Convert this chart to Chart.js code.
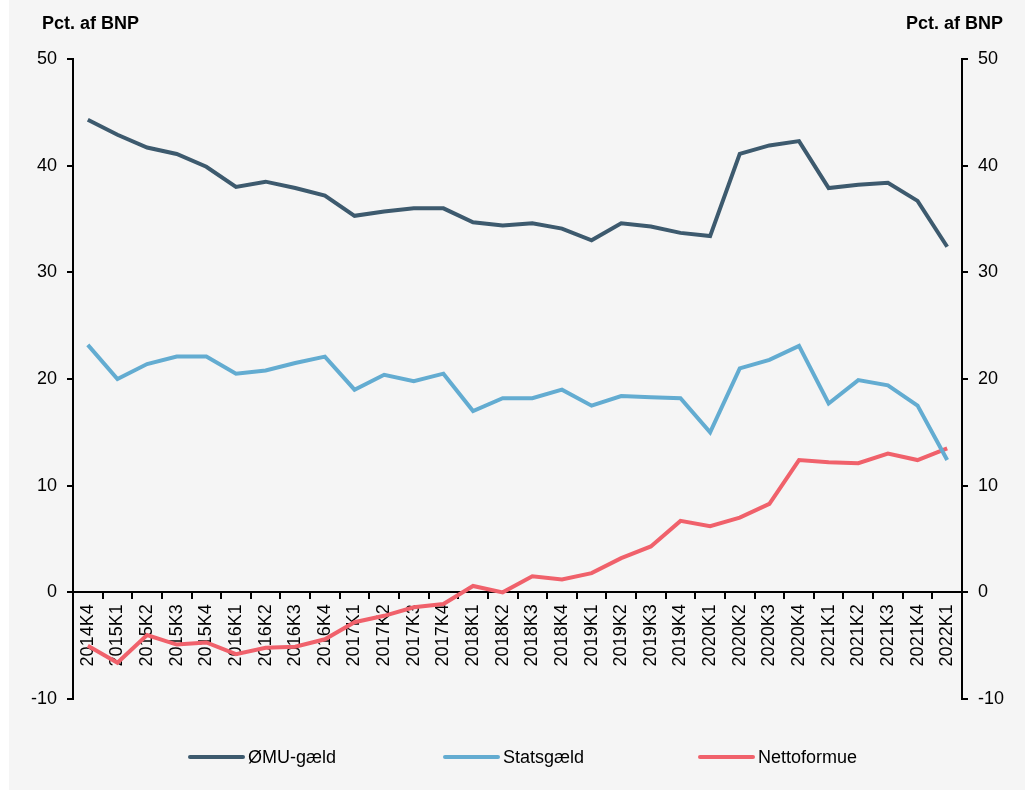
<!DOCTYPE html>
<html>
<head>
<meta charset="utf-8">
<script src="https://cdn.jsdelivr.net/npm/chart.js@4"></script>
<style>
  body { margin: 0; background: #ffffff; }
  #wrap { position: absolute; left: 9px; top: 0; width: 1016px; height: 790px; background: #f5f5f5; }
</style>
</head>
<body>
<div id="wrap"><canvas id="myChart" width="1016" height="790"></canvas></div>
<script>
  const labels = [
    '2014K4',
    '2015K1', '2015K2', '2015K3', '2015K4',
    '2016K1', '2016K2', '2016K3', '2016K4',
    '2017K1', '2017K2', '2017K3', '2017K4',
    '2018K1', '2018K2', '2018K3', '2018K4',
    '2019K1', '2019K2', '2019K3', '2019K4',
    '2020K1', '2020K2', '2020K3', '2020K4',
    '2021K1', '2021K2', '2021K3', '2021K4',
    '2022K1'
  ];
  const emuDebt = [44.3, 42.9, 41.7, 41.1, 39.9, 38.0, 38.5, 37.9, 37.2, 35.3, 35.7, 36.0, 36.0, 34.7, 34.4, 34.6,
    34.1, 33.0, 34.6, 34.3, 33.7, 33.4, 41.1, 41.9, 42.3, 37.9, 38.2, 38.4, 36.7, 32.4];
  const govDebt = [23.2, 20.0, 21.4, 22.1, 22.1, 20.5, 20.8, 21.5, 22.1, 19.0, 20.4, 19.8, 20.5, 17.0, 18.2, 18.2,
    19.0, 17.5, 18.4, 18.3, 18.2, 15.0, 21.0, 21.8, 23.1, 17.7, 19.9, 19.4, 17.5, 12.4];
  const netWealth = [-5.0, -6.6, -4.0, -4.9, -4.7, -5.8, -5.2, -5.1, -4.4, -2.8, -2.2, -1.4, -1.1, 0.6, 0.0, 1.5,
    1.2, 1.8, 3.2, 4.3, 6.7, 6.2, 7.0, 8.3, 12.4, 12.2, 12.1, 13.0, 12.4, 13.5];
  const seriesNames = ['ØMU-gæld', 'Statsgæld', 'Nettoformue'];
  const seriesColors = ['#3d5a6e', '#63acd1', '#f0616b'];
  const axisTitle = 'Pct. af BNP';

  const fontFamily = '"Liberation Sans", Arial, sans-serif';

  // titles over both y axes
  const axisTitles = {
    id: 'axisTitles',
    afterDraw(chart) {
      const ctx = chart.ctx;
      ctx.save();
      ctx.font = 'bold 18px ' + fontFamily;
      ctx.fillStyle = '#000';
      ctx.textBaseline = 'middle';
      ctx.textAlign = 'left';
      ctx.fillText(axisTitle, 33, 24);
      ctx.textAlign = 'right';
      ctx.fillText(axisTitle, 994, 24);
      ctx.restore();
    }
  };

  // legend spread evenly under the chart
  const spreadLegend = {
    id: 'spreadLegend',
    afterDraw(chart) {
      const ctx = chart.ctx;
      ctx.save();
      ctx.font = '18px ' + fontFamily;
      ctx.fillStyle = '#000';
      ctx.textBaseline = 'middle';
      ctx.textAlign = 'left';
      chart.data.datasets.forEach((ds, i) => {
        const x0 = 181 + i * 255;
        const y = 757;
        ctx.strokeStyle = ds.borderColor;
        ctx.lineWidth = 4;
        ctx.lineCap = 'round';
        ctx.beginPath();
        ctx.moveTo(x0, y);
        ctx.lineTo(x0 + 53, y);
        ctx.stroke();
        ctx.fillText(ds.label, x0 + 58, y + 1);
      });
      ctx.restore();
    }
  };

  const seriesData = [emuDebt, govDebt, netWealth];
  const data = {
    labels: labels,
    datasets: seriesData.map((values, i) => ({
      label: seriesNames[i],
      data: values,
      borderColor: seriesColors[i],
      backgroundColor: seriesColors[i],
      borderWidth: 4,
      pointRadius: 0,
      tension: 0,
      yAxisID: 'y'
    }))
  };

  const yTicks = {
    stepSize: 10,
    color: '#000',
    padding: 10,
    font: { family: fontFamily, size: 18 }
  };

  const config = {
    type: 'line',
    data: data,
    plugins: [axisTitles, spreadLegend],
    options: {
      responsive: false,
      devicePixelRatio: 1,
      animation: false,
      layout: { padding: { top: 59, bottom: 91, left: 0, right: 0 } },
      plugins: {
        legend: { display: false },
        tooltip: { enabled: false }
      },
      scales: {
        x: {
          type: 'category',
          position: { y: 0 },
          offset: true,
          grid: { display: true, drawOnChartArea: false, offset: true, tickLength: 6, color: '#000', lineWidth: 2 },
          border: { display: true, color: '#000', width: 2 },
          ticks: {
            autoSkip: false,
            minRotation: 90,
            maxRotation: 90,
            padding: 6,
            color: '#000',
            font: { family: fontFamily, size: 18 }
          }
        },
        y: {
          position: 'left',
          min: -10,
          max: 50,
          afterFit(scale) { scale.width = 64; },
          grid: { display: true, drawOnChartArea: false, tickLength: 6, color: '#000', lineWidth: 2 },
          border: { display: true, color: '#000', width: 2 },
          ticks: yTicks
        },
        y2: {
          position: 'right',
          min: -10,
          max: 50,
          afterFit(scale) { scale.width = 63; },
          grid: { display: true, drawOnChartArea: false, tickLength: 6, color: '#000', lineWidth: 2 },
          border: { display: true, color: '#000', width: 2 },
          ticks: yTicks
        }
      }
    }
  };

  const myChart = new Chart(document.getElementById('myChart'), config);
</script>
</body>
</html>
